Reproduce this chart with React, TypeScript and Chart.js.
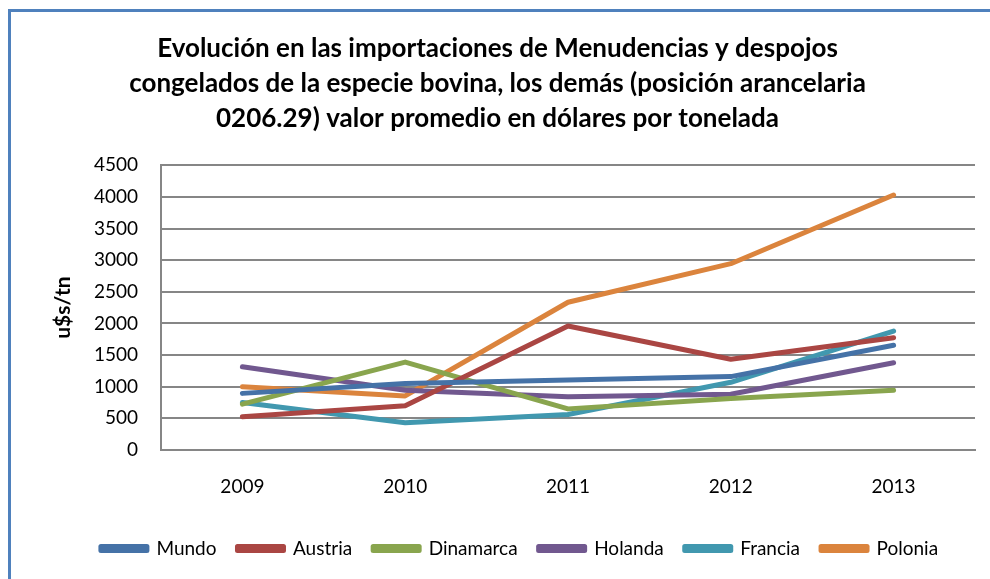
import React, { useEffect, useRef } from "react";
import { Chart, registerables } from "chart.js";

Chart.register(...registerables);

const titleLines = [
  "Evolución en las importaciones de Menudencias y despojos",
  "congelados de la especie bovina, los demás (posición arancelaria",
  "0206.29) valor promedio en dólares por tonelada",
];
const yAxisTitle = "u$s/tn";
const years = ["2009", "2010", "2011", "2012", "2013"];
const mundo = [895, 1050, 1105, 1160, 1655];
const austria = [525, 700, 1960, 1435, 1775];
const dinamarca = [725, 1390, 650, 815, 945];
const holanda = [1315, 945, 840, 880, 1380];
const francia = [750, 430, 560, 1070, 1880];
const polonia = [1000, 855, 2335, 2945, 4030];
const yMin = 0;
const yMax = 4500;
const yStep = 500;

const seriesNames = ["Mundo", "Austria", "Dinamarca", "Holanda", "Francia", "Polonia"];
const seriesValues = [mundo, austria, dinamarca, holanda, francia, polonia];
const seriesColors = ["#4572A7", "#AA4643", "#89A54E", "#71588F", "#4198AF", "#DB843D"];

const FONT = "Lato, 'Open Sans', 'DejaVu Sans', sans-serif";

const framePlugin = {
  id: "frame",
  beforeDraw(chart: any) {
    const ctx = chart.ctx;
    ctx.save();
    ctx.fillStyle = "#ffffff";
    ctx.fillRect(0, 0, chart.width, chart.height);
    ctx.fillStyle = "#4F81BD";
    ctx.fillRect(8, 9, 3, chart.height);
    ctx.fillRect(8, 9, chart.width, 3);
    ctx.restore();
  },
};

const legendShiftPlugin = {
  id: "legendShift",
  afterLayout(chart: any) {
    const lg = chart.legend;
    if (lg) {
      lg.left += 22;
      lg.right += 22;
    }
  },
};

export default function App() {
  const ref = useRef<HTMLCanvasElement | null>(null);

  useEffect(() => {
    if (!ref.current) return;
    const chart = new Chart(ref.current, {
      type: "line",
      data: {
        labels: years,
        datasets: seriesNames.map((name, i) => ({
          label: name,
          data: seriesValues[i],
          borderColor: seriesColors[i],
          backgroundColor: seriesColors[i],
          borderWidth: 5,
          pointRadius: 0,
          pointHoverRadius: 0,
          tension: 0,
          borderCapStyle: "round" as const,
          borderJoinStyle: "round" as const,
          fill: false,
        })),
      },
      options: {
        responsive: false,
        animation: false,
        devicePixelRatio: 1,
        layout: { padding: { left: 20, right: 15, top: 20, bottom: 11 } },
        plugins: {
          title: {
            display: true,
            text: titleLines,
            color: "#000000",
            font: { family: FONT, size: 26, weight: "bold", lineHeight: 1.35 },
            padding: { top: 11, bottom: 29 },
          },
          legend: {
            display: true,
            position: "bottom",
            maxHeight: 50,
            labels: {
              color: "#000000",
              font: { family: FONT, size: 19 },
              boxWidth: 46,
              boxHeight: 4,
              padding: 21,
            },
          },
          tooltip: { enabled: false },
        },
        scales: {
          x: {
            offset: true,
            grid: { display: false, drawTicks: false },
            border: { display: true, color: "#868686", width: 2 },
            ticks: {
              color: "#000000",
              font: { family: FONT, size: 19 },
              padding: 25,
              maxRotation: 0,
            },
            afterFit(scale: any) {
              scale.height = 68;
            },
          },
          y: {
            min: yMin,
            max: yMax,
            grid: { color: "#868686", lineWidth: 2, drawTicks: false },
            border: { display: true, color: "#868686", width: 2 },
            ticks: {
              stepSize: yStep,
              color: "#000000",
              font: { family: FONT, size: 19 },
              padding: 23,
              callback: (v: any) => String(v),
            },
            title: {
              display: true,
              text: yAxisTitle,
              color: "#000000",
              font: { family: FONT, size: 21, weight: "bold" },
              padding: { top: 31, bottom: 0 },
            },
            afterFit(scale: any) {
              scale.width = 141;
            },
          },
        },
      },
      plugins: [framePlugin, legendShiftPlugin],
    });
    return () => chart.destroy();
  }, []);

  return (
    <div style={{ position: "fixed", left: 0, top: 0, width: 990, height: 579 }}>
      <canvas ref={ref} width={990} height={579} style={{ display: "block" }} />
    </div>
  );
}
